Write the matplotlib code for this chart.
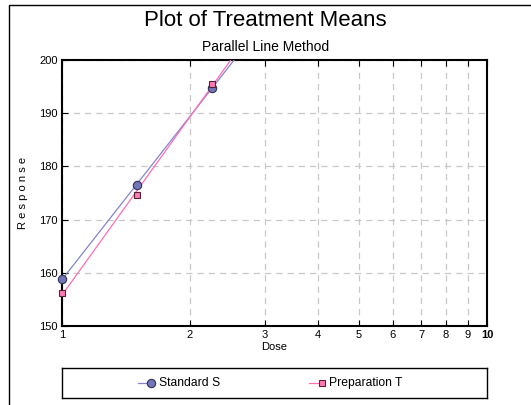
import numpy as np
import matplotlib.pyplot as plt
from matplotlib.patches import Rectangle
from matplotlib.ticker import FixedLocator, NullLocator

plt.rcParams['font.family'] = ['Liberation Sans', 'DejaVu Sans']

dose = [1.0, 1.5, 2.25]
standard_s = [158.8, 176.5, 194.7]
preparation_t = [156.2, 174.6, 195.4]
x_ticks = [1, 2, 3, 4, 5, 6, 7, 8, 9, 10]
y_ticks = [150, 160, 170, 180, 190, 200]

fig = plt.figure(figsize=(5.31, 4.05), dpi=100)
ax = fig.add_axes([62/531, 1-326/405, (487-62)/531, (326-60)/405])

# outer frame (only left and top visible)
fig.patches.append(Rectangle((9/531, -0.1), 1.2, 1.1-5/405, transform=fig.transFigure,
                             fill=False, edgecolor='black', linewidth=1.0))

ax.set_xscale('log')
ax.set_xlim(1, 10)
ax.set_ylim(150, 200)

# fitted lines (log dose)
xx = np.array([1.0, 10.0])
for y, col in [(standard_s, '#8484d0'), (preparation_t, '#ff6eb4')]:
    b, a = np.polyfit(np.log10(dose), y, 1)
    ax.plot(xx, a + b*np.log10(xx), color=col, lw=0.9, zorder=3)

ax.plot(dose, standard_s, 'o', ms=6, mfc='#7474b8', mec='#333355', mew=0.8, zorder=4, clip_on=False)
ax.plot(dose, preparation_t, 's', ms=5, mfc='#ff7ab8', mec='#552233', mew=0.8, zorder=4, clip_on=False)

ax.xaxis.set_major_locator(FixedLocator(x_ticks))
ax.xaxis.set_minor_locator(NullLocator())
ax.set_xticklabels([str(t) for t in x_ticks], fontsize=8)
ax.get_xticklabels()[-1].set_fontweight('bold')
ax.set_yticks(y_ticks)
ax.set_yticklabels([str(t) for t in y_ticks], fontsize=8)
ax.tick_params(axis='both', direction='in', length=4, width=0.8, top=True, pad=3)
ax.grid(True, color='#c8c8c8', linestyle=(0, (5, 4)), linewidth=0.9)
for s in ax.spines.values():
    s.set_linewidth(1.5)

ax.set_xlabel('Dose', fontsize=8, labelpad=1)
ax.set_ylabel('R e s p o n s e', fontsize=8, labelpad=8)

fig.text(0.5, 1-21/405, 'Plot of Treatment Means', ha='center', va='center', fontsize=16)
fig.text(0.5, 1-47/405, 'Parallel Line Method', ha='center', va='center', fontsize=10)

# legend box
lax = fig.add_axes([62/531, 1-398/405, (487-62)/531, 30/405])
lax.set_xlim(62, 487)
lax.set_ylim(0, 30)
lax.set_xticks([])
lax.set_yticks([])
for s in lax.spines.values():
    s.set_linewidth(1.0)
lax.plot([138, 151], [15, 15], color='#8484d0', lw=0.9)
lax.plot([151], [15], 'o', ms=6, mfc='#7474b8', mec='#333355', mew=0.8)
lax.text(159, 15, 'Standard S', va='center', fontsize=8.7)
lax.plot([309, 322], [15, 15], color='#ff6eb4', lw=0.9)
lax.plot([322], [15], 's', ms=5, mfc='#ff7ab8', mec='#552233', mew=0.8)
lax.text(329, 15, 'Preparation T', va='center', fontsize=8.7)

fig.savefig('out.png', dpi=100)
